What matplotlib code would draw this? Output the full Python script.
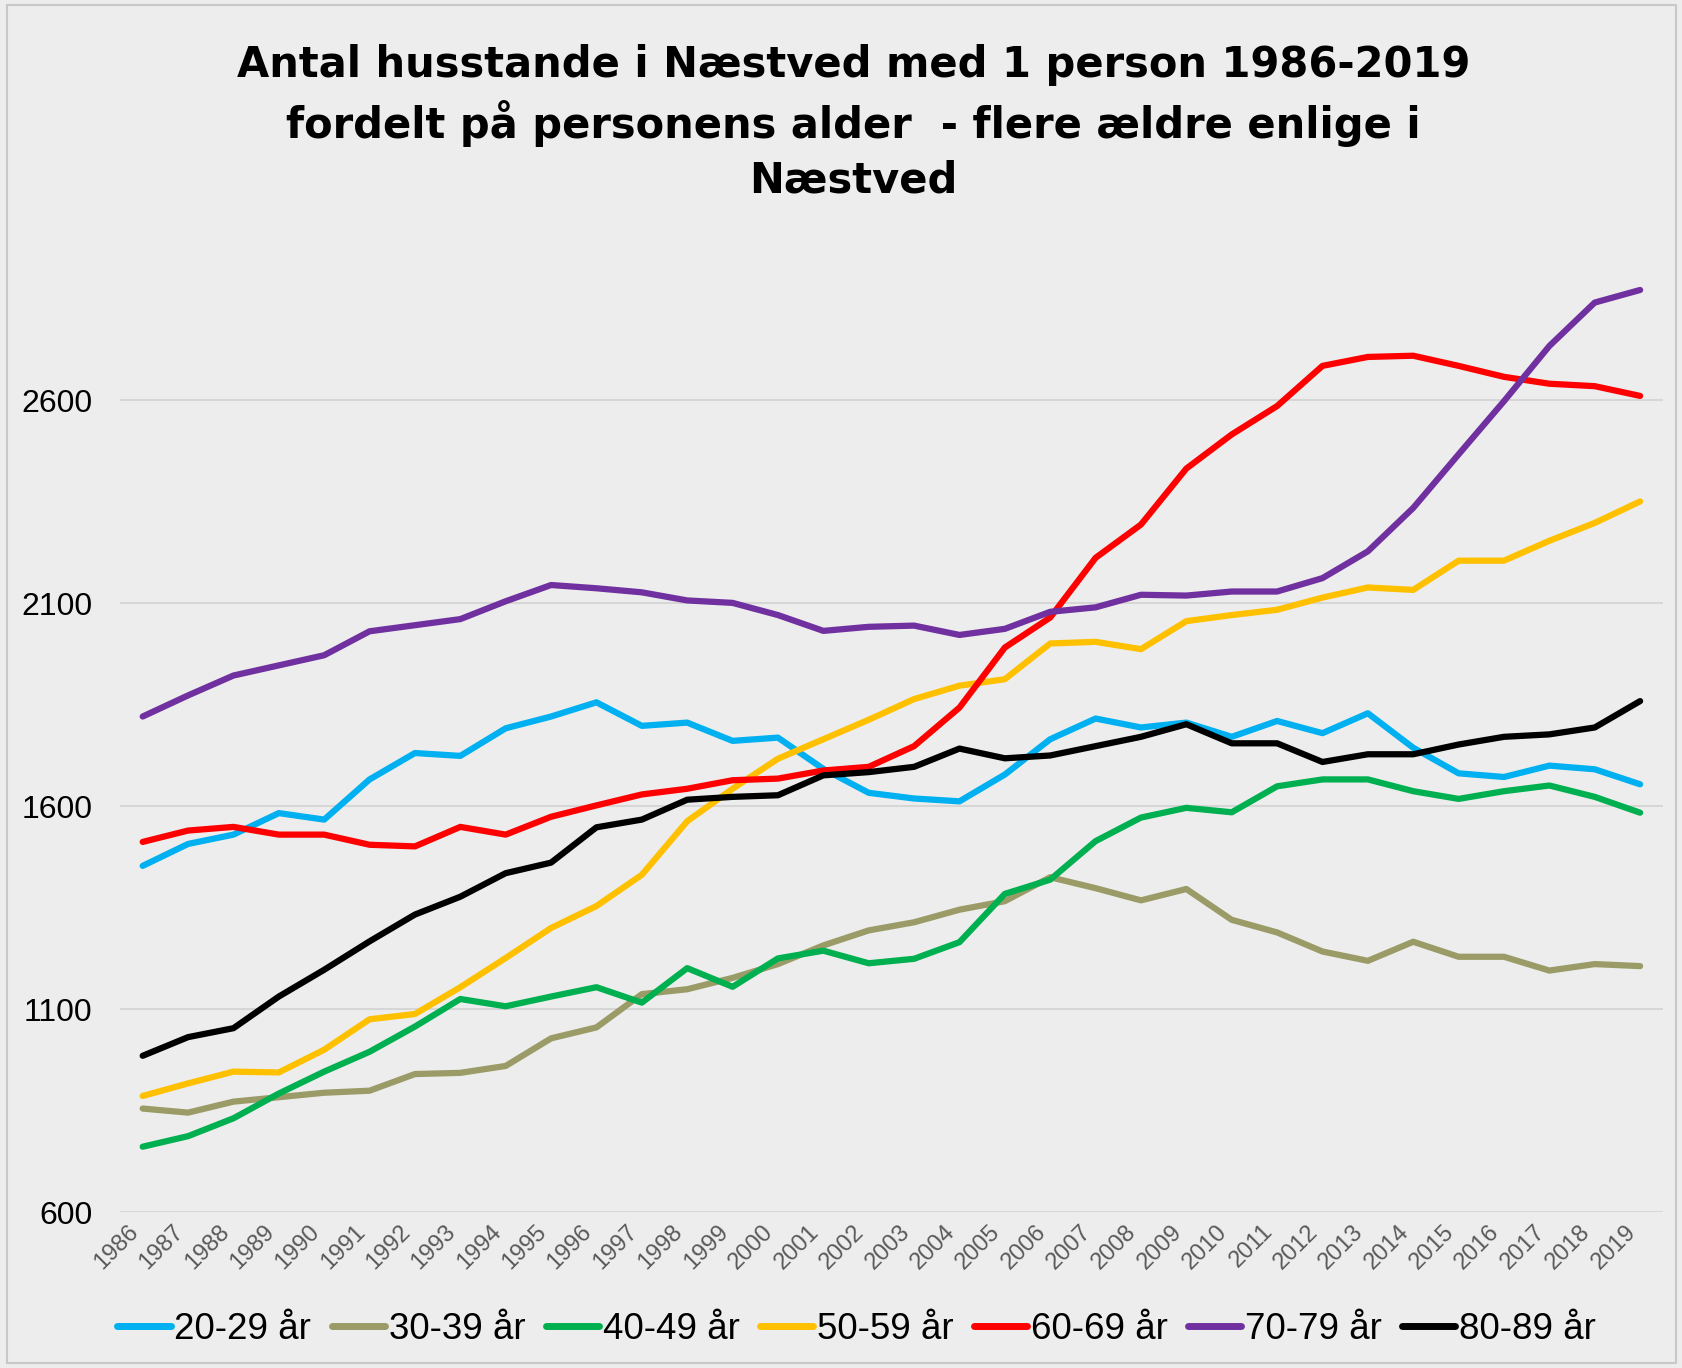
import matplotlib.pyplot as plt
from matplotlib.patches import Rectangle

# =========================
# DATA
# =========================

years = [str(y) for y in range(1986, 2020)]

age_20_29 = [1453, 1507, 1530, 1583, 1567, 1666, 1731, 1724, 1792, 1821,
             1856, 1798, 1806, 1761, 1769, 1692, 1633, 1619, 1612, 1678,
             1765, 1816, 1794, 1806, 1771, 1810, 1780, 1829, 1744, 1681,
             1672, 1700, 1691, 1654]

age_30_39 = [855, 845, 872, 883, 894, 899, 940, 943, 960, 1028,
             1055, 1137, 1149, 1177, 1211, 1257, 1294, 1314, 1345, 1366,
             1425, 1398, 1368, 1396, 1320, 1289, 1242, 1219, 1266, 1229,
             1229, 1195, 1211, 1206]

age_40_49 = [761, 787, 831, 892, 946, 995, 1057, 1125, 1107, 1131,
             1154, 1116, 1201, 1155, 1225, 1244, 1213, 1224, 1265, 1384,
             1419, 1514, 1572, 1596, 1585, 1649, 1666, 1666, 1637, 1618,
             1637, 1651, 1623, 1584]

age_50_59 = [886, 917, 946, 944, 1000, 1075, 1088, 1154, 1226, 1300,
             1354, 1431, 1563, 1643, 1717, 1765, 1813, 1864, 1897, 1913,
             2001, 2005, 1987, 2056, 2071, 2084, 2114, 2139, 2133, 2205,
             2205, 2254, 2298, 2351]

age_60_69 = [1512, 1540, 1549, 1530, 1530, 1505, 1501, 1549, 1530, 1574,
             1602, 1629, 1643, 1664, 1668, 1688, 1697, 1748, 1843, 1991,
             2065, 2212, 2294, 2432, 2516, 2586, 2685, 2707, 2710, 2685,
             2658, 2641, 2635, 2611]

age_70_79 = [1821, 1873, 1922, 1947, 1972, 2031, 2046, 2061, 2105, 2145,
             2137, 2127, 2107, 2101, 2071, 2032, 2042, 2045, 2022, 2037,
             2079, 2090, 2121, 2119, 2129, 2129, 2162, 2228, 2335, 2467,
             2598, 2734, 2841, 2872]

age_80_89 = [985, 1031, 1053, 1131, 1197, 1267, 1333, 1377, 1435, 1461,
             1548, 1567, 1616, 1623, 1627, 1676, 1684, 1697, 1742, 1718,
             1725, 1748, 1771, 1802, 1755, 1755, 1709, 1728, 1728, 1752,
             1771, 1777, 1794, 1859]

series = [
    ("20-29 år", age_20_29, "#00B0F0"),
    ("30-39 år", age_30_39, "#9B9B67"),
    ("40-49 år", age_40_49, "#00B050"),
    ("50-59 år", age_50_59, "#FFC000"),
    ("60-69 år", age_60_69, "#FF0000"),
    ("70-79 år", age_70_79, "#7030A0"),
    ("80-89 år", age_80_89, "#000000"),
]

# =========================
# FIGURE
# =========================

plt.rcParams["font.family"] = ["Liberation Sans", "DejaVu Sans"]

fig = plt.figure(figsize=(16.83, 13.68), dpi=100)
fig.patch.set_facecolor("#EDEDED")
fig.patches.append(Rectangle((0.004, 0.004), 0.992, 0.992, transform=fig.transFigure,
                             fill=False, edgecolor="#C8C8C8", linewidth=1.5))

ax = fig.add_axes([0.0713, 0.114, 0.9167, 0.712])
ax.set_facecolor("none")

x = list(range(len(years)))
for label, values, color in series:
    ax.plot(x, values, color=color, linewidth=4.5, label=label,
            solid_capstyle="round", solid_joinstyle="round", zorder=3)

ax.set_xlim(-0.5, len(years) - 0.5)
ax.set_ylim(600, 3000)
ax.set_yticks([600, 1100, 1600, 2100, 2600])
ax.set_xticks(x)
ax.set_xticklabels(years, rotation=45, ha="right", va="top",
                   fontsize=17, color="#595959")
ax.tick_params(axis="y", labelsize=23, length=0, pad=20, labelcolor="black")
ax.tick_params(axis="x", length=0, pad=6)

ax.grid(axis="y", color="#D6D6D6", linewidth=1.5, zorder=0)
for s in ax.spines.values():
    s.set_visible(False)

fig.text(0.507, 0.968,
         "Antal husstande i Næstved med 1 person 1986-2019\n"
         "fordelt på personens alder  - flere ældre enlige i\n"
         "Næstved",
         ha="center", va="top", fontsize=30, fontweight="bold",
         family=["DejaVu Sans"], linespacing=1.38)

leg = fig.legend(loc="center", bbox_to_anchor=(0.509, 0.028), ncol=7,
                 frameon=False, fontsize=26.5, handlelength=1.45,
                 handletextpad=0.1, columnspacing=0.55)
for h in leg.get_lines():
    h.set_linewidth(5)
    h.set_solid_capstyle("round")

fig.savefig("out.png", dpi=100, facecolor=fig.get_facecolor())
